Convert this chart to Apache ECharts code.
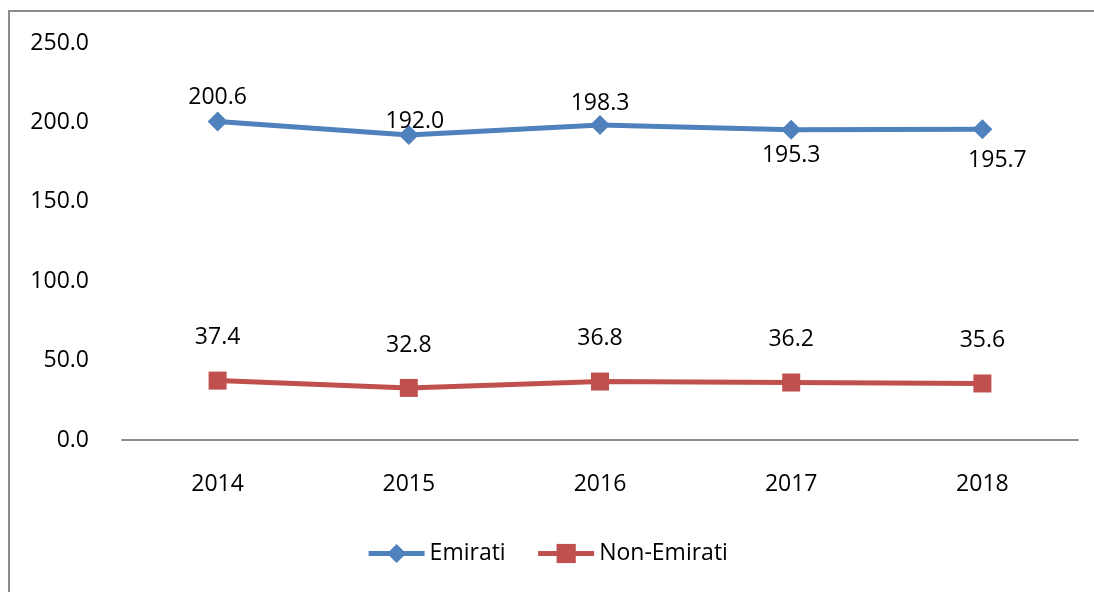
<!DOCTYPE html>
<html>
<head>
<meta charset="utf-8">
<script src="https://cdn.jsdelivr.net/npm/echarts@6/dist/echarts.min.js"></script>
<style>html,body{margin:0;padding:0;background:#fff}#c{width:1094px;height:592px}</style>
</head>
<body>
<div id="c"></div>
<script>
const years = ['2014', '2015', '2016', '2017', '2018'];
const emirati = [200.6, 192.0, 198.3, 195.3, 195.7];
const nonEmirati = [37.4, 32.8, 36.8, 36.2, 35.6];
const yTicks = [0, 50, 100, 150, 200, 250];

// label placement (styling only)
const emiratiLabelPos = [
  {position: 'top', distance: 2, offset: [0, 0]},
  {position: 'top', distance: 0, offset: [6, 8]},
  {position: 'top', distance: 0, offset: [0, 0]},
  {position: 'bottom', distance: 4, offset: [0, 0]},
  {position: 'bottom', distance: 10, offset: [15, 0]}
];
const nonLabelPos = [
  {position: 'top', distance: 23},
  {position: 'top', distance: 22},
  {position: 'top', distance: 23},
  {position: 'top', distance: 23},
  {position: 'top', distance: 23}
];

const FONT = '"Open Sans", "Noto Sans", sans-serif';
const FS = 23;
const chart = echarts.init(document.getElementById('c'));
chart.setOption({
  animation: false,
  backgroundColor: '#fff',
  textStyle: {fontFamily: FONT},
  graphic: [{
    type: 'rect', shape: {x: 9, y: 11, width: 1100, height: 600},
    style: {fill: 'none', stroke: '#8c8c8c', lineWidth: 2}, silent: true
  }],
  grid: {left: 122, right: 16, top: 43, bottom: 152},
  legend: {
    bottom: 22, left: 'center',
    itemWidth: 56, itemHeight: 24, itemGap: 30,
    lineStyle: {width: 5},
    textStyle: {fontSize: FS, color: '#000', fontFamily: FONT},
    data: ['Emirati', 'Non-Emirati']
  },
  xAxis: {
    type: 'category', data: years, boundaryGap: true,
    axisLine: {lineStyle: {color: '#8c8c8c', width: 2}},
    axisTick: {show: false},
    axisLabel: {fontSize: FS, color: '#000', margin: 33, fontFamily: FONT}
  },
  yAxis: {
    type: 'value', min: yTicks[0], max: yTicks[yTicks.length - 1], interval: 50,
    axisLine: {show: false}, axisTick: {show: false}, splitLine: {show: false},
    axisLabel: {fontSize: FS, color: '#000', margin: 33, fontFamily: FONT,
      formatter: v => v.toFixed(1)}
  },
  series: [{
    name: 'Emirati', type: 'line',
    data: emirati.map((v, i) => ({value: v, label: emiratiLabelPos[i]})),
    symbol: 'diamond', symbolSize: 20,
    lineStyle: {color: '#4F81BD', width: 5},
    itemStyle: {color: '#4F81BD'},
    label: {show: true, fontSize: FS, color: '#000', fontFamily: FONT,
      formatter: p => p.value.toFixed(1)}
  }, {
    name: 'Non-Emirati', type: 'line',
    data: nonEmirati.map((v, i) => ({value: v, label: nonLabelPos[i]})),
    symbol: 'rect', symbolSize: 18,
    lineStyle: {color: '#C0504D', width: 5},
    itemStyle: {color: '#C0504D'},
    label: {show: true, fontSize: FS, color: '#000', fontFamily: FONT,
      formatter: p => p.value.toFixed(1)}
  }]
});
</script>
</body>
</html>
